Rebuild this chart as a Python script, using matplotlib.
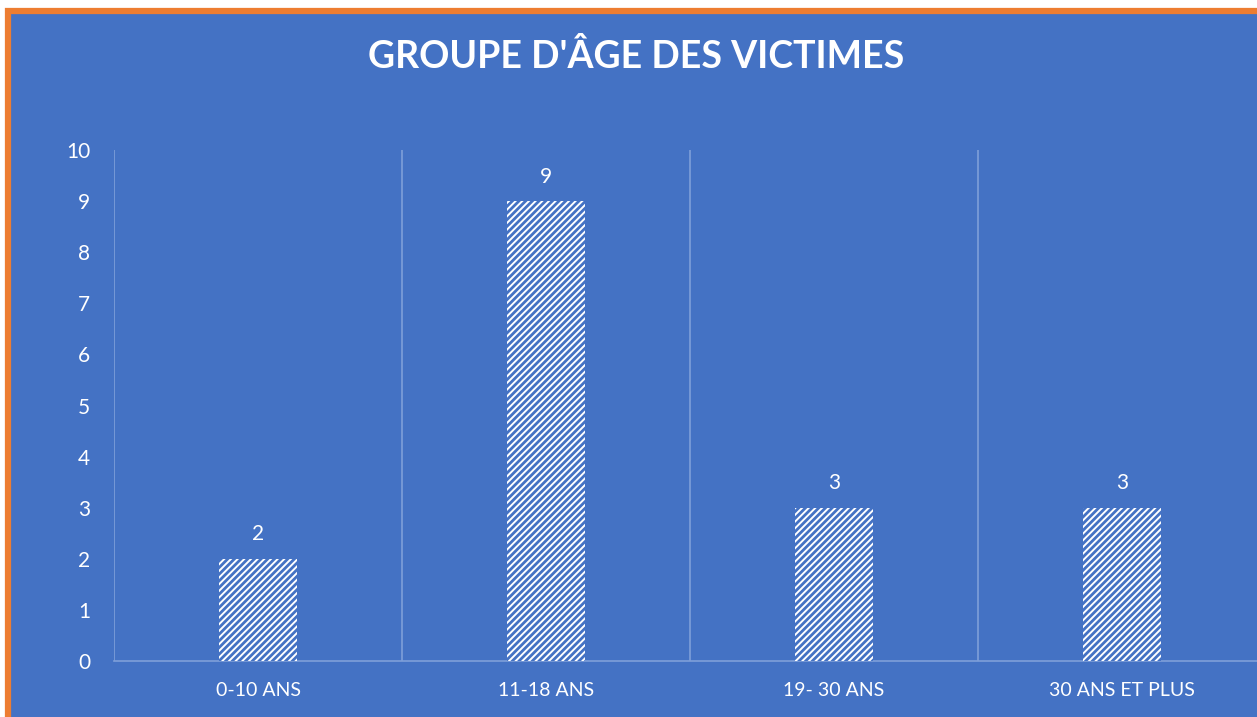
import matplotlib.pyplot as plt
from matplotlib.patches import Rectangle
import numpy as np

categories = ["0-10 ANS", "11-18 ANS", "19- 30 ANS", "30 ANS ET PLUS"]
values = [2, 9, 3, 3]
yticks = [0, 1, 2, 3, 4, 5, 6, 7, 8, 9, 10]

BLUE = '#4472C4'
GRID = '#7E9FD9'
ORANGE = '#ED7D31'
W, H = 1257, 717

plt.rcParams['font.family'] = ['Lato', 'DejaVu Sans']
plt.rcParams['hatch.linewidth'] = 2.0

fig = plt.figure(figsize=(W / 100, H / 100), dpi=100)
fig.patch.set_facecolor('white')

# blue chart area with orange border (cropped on right and bottom)
fig.patches.append(Rectangle((8 / W, -0.1), 1.2, 1.1 - 11 / H,
                             transform=fig.transFigure, facecolor=BLUE,
                             edgecolor=ORANGE, linewidth=4.5, zorder=-5))

# axes: x 114..1266 (past the right edge), y 150..661
ax = fig.add_axes([114 / W, (H - 661) / H, 1152 / W, 511 / H])
ax.set_facecolor('none')
ax.set_zorder(2)

x = np.arange(len(categories))
bars = ax.bar(x, values, width=0.27, facecolor='white', edgecolor=BLUE,
              linewidth=0, hatch='/////', zorder=3)

for xi, v in zip(x, values):
    ax.text(xi, v + 0.28, str(v), ha='center', va='bottom',
            color='white', fontsize=15)

ax.set_xlim(-0.5, len(categories) - 0.5)
ax.set_ylim(0, 10)
ax.set_yticks(yticks)
ax.set_yticklabels([str(t) for t in yticks])
ax.set_xticks(x)
ax.set_xticklabels(categories)

# vertical separators between categories
for b in np.arange(-0.5, len(categories), 1):
    ax.axvline(b, color=GRID, linewidth=1.2, zorder=1)

for s in ['top', 'right', 'left']:
    ax.spines[s].set_visible(False)
ax.spines['bottom'].set_color(GRID)
ax.spines['bottom'].set_linewidth(1.2)

ax.tick_params(axis='y', length=0, pad=17, labelcolor='white', labelsize=15)
ax.tick_params(axis='x', length=0, pad=15, labelcolor='white', labelsize=14)

fig.text(636 / W, 1 - 57 / H, "GROUPE D'ÂGE DES VICTIMES", ha='center',
         va='center', color='white', fontsize=27, fontweight='bold',
         zorder=3)

fig.savefig('out.png', dpi=100, facecolor=fig.get_facecolor())
